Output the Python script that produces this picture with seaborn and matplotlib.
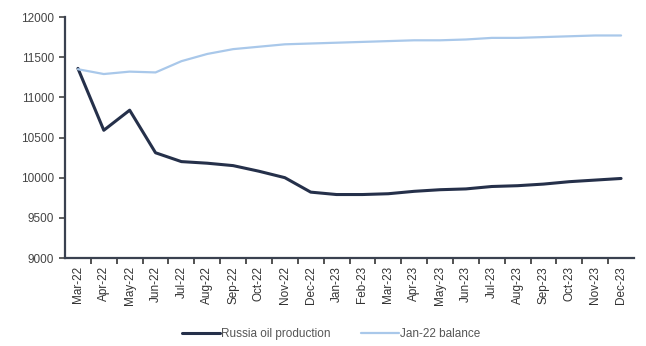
import matplotlib
matplotlib.use("Agg")
import matplotlib.pyplot as plt
import seaborn as sns
import pandas as pd
import numpy as np

months = ["Mar-22", "Apr-22", "May-22", "Jun-22", "Jul-22", "Aug-22", "Sep-22",
          "Oct-22", "Nov-22", "Dec-22", "Jan-23", "Feb-23", "Mar-23", "Apr-23",
          "May-23", "Jun-23", "Jul-23", "Aug-23", "Sep-23", "Oct-23", "Nov-23",
          "Dec-23"]
russia_oil = [11360, 10590, 10840, 10310, 10200, 10180, 10150, 10080, 10000,
              9820, 9790, 9790, 9800, 9830, 9850, 9860, 9890, 9900, 9920,
              9950, 9970, 9990]
jan22_balance = [11350, 11290, 11320, 11310, 11450, 11540, 11600, 11630,
                 11660, 11670, 11680, 11690, 11700, 11710, 11710, 11720,
                 11740, 11740, 11750, 11760, 11770, 11770]
y_ticks = [9000, 9500, 10000, 10500, 11000, 11500, 12000]

sns.set_theme(style="white")
plt.rcParams["font.family"] = ["Liberation Sans", "DejaVu Sans"]

df = pd.DataFrame({
    "month": months * 2,
    "idx": list(range(len(months))) * 2,
    "value": russia_oil + jan22_balance,
    "series": ["Russia oil production"] * len(months) + ["Jan-22 balance"] * len(months),
})

dark, light = "#25304a", "#a9c8ea"

fig = plt.figure(figsize=(6.46, 3.46), dpi=100)
ax = fig.add_axes([65 / 646, 1 - 258 / 346, (634 - 65) / 646, (258 - 17) / 346])

sns.lineplot(data=df, x="idx", y="value", hue="series",
             palette={"Russia oil production": dark, "Jan-22 balance": light},
             ax=ax, legend=False)
lines = ax.get_lines()
lines[0].set_linewidth(2.2)
lines[1].set_linewidth(1.6)

ax.set_xlim(-0.5, len(months) - 0.5)
ax.set_ylim(9000, 12000)
ax.set_yticks(y_ticks)
ax.set_yticklabels([str(v) for v in y_ticks], fontsize=8.5, color="#444444")
ax.set_xticks(range(len(months)))
ax.set_xticklabels(months, rotation=90, fontsize=8.5, color="#333333")
ax.set_xticks(np.arange(0.5, len(months) - 0.5, 1), minor=True)
ax.tick_params(axis="x", which="major", bottom=False, length=0, pad=6)
ax.tick_params(axis="x", which="minor", bottom=True, length=4, width=1.2,
               color="#333333", direction="out")
ax.tick_params(axis="y", left=True, length=4, width=1.2, color="#444444",
               direction="out", pad=4)
ax.set_xlabel("")
ax.set_ylabel("")
for side in ["top", "right"]:
    ax.spines[side].set_visible(False)
for side in ["left", "bottom"]:
    ax.spines[side].set_color("#3a4150")
    ax.spines[side].set_linewidth(1.6)

handles = [plt.Line2D([], [], color=dark, lw=2.2),
           plt.Line2D([], [], color=light, lw=1.6)]
fig.legend(handles, ["Russia oil production", "Jan-22 balance"],
           loc="center", bbox_to_anchor=(331 / 646, 1 - 334 / 346), ncol=2,
           frameon=False, fontsize=8.5, handlelength=3.2, columnspacing=2.6,
           handletextpad=0.1, labelcolor="#555555")

fig.savefig("out.png", dpi=100)
